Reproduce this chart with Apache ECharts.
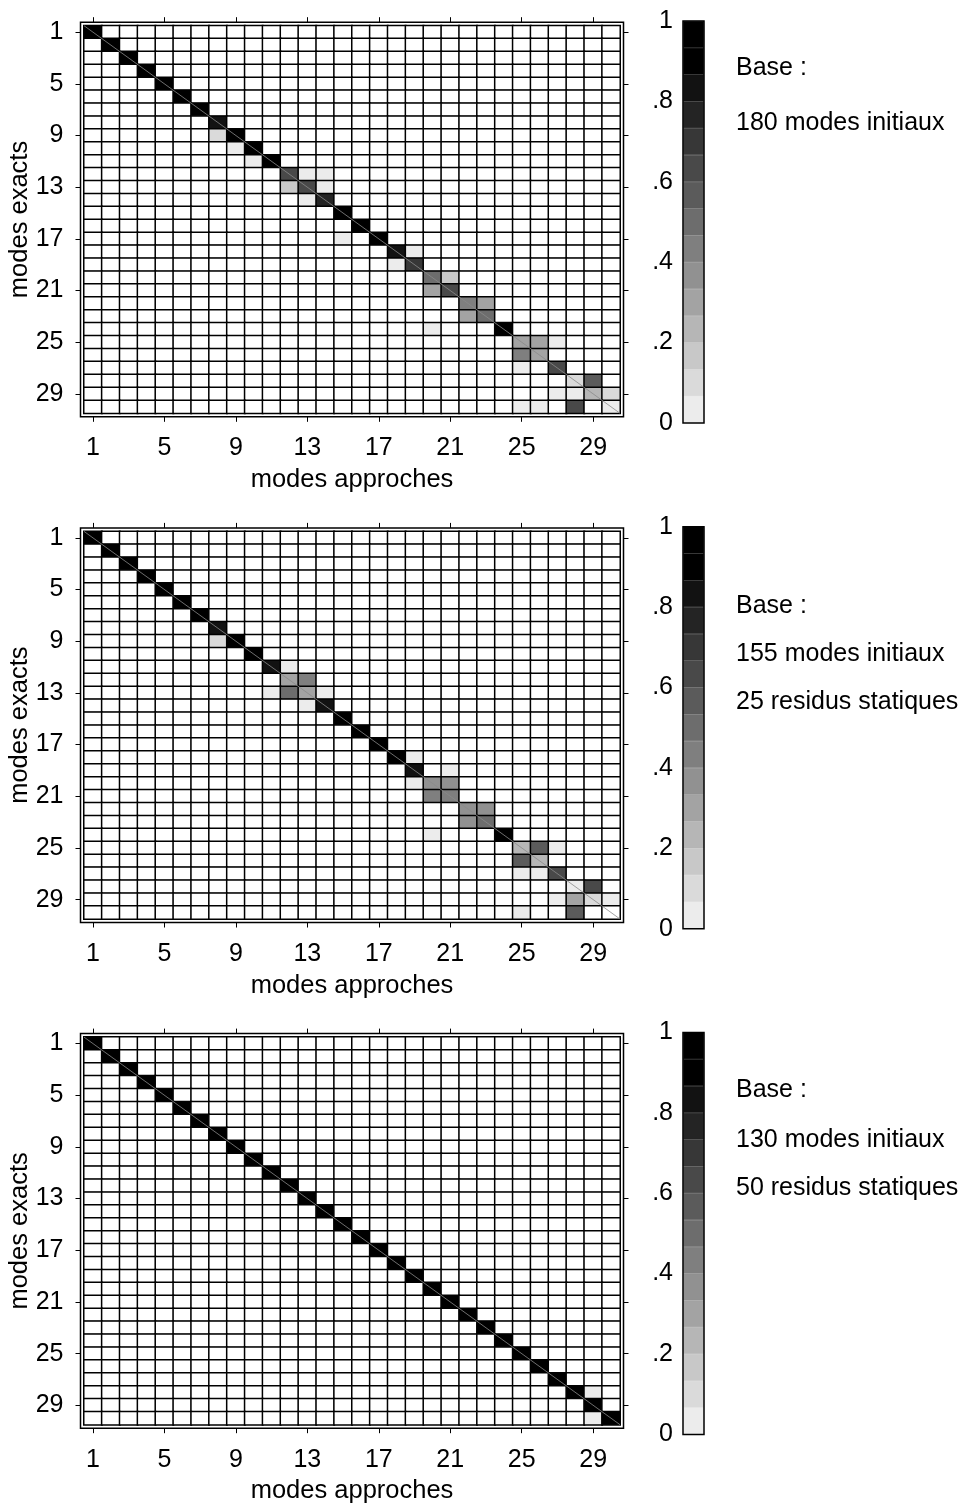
<!DOCTYPE html>
<html>
<head>
<meta charset="utf-8">
<script src="https://cdn.jsdelivr.net/npm/echarts@6/dist/echarts.min.js"></script>
<style>
html,body{margin:0;padding:0;background:#fff;}
#chart{width:962px;height:1507px;}
</style>
</head>
<body>
<div id="chart"></div>
<script>
// ---------- DATA ----------
const modes = ['1','2','3','4','5','6','7','8','9','10','11','12','13','14','15','16','17','18','19','20','21','22','23','24','25','26','27','28','29','30'];
const colorbarTicks = [0, 0.2, 0.4, 0.6, 0.8, 1];

// Panel 1 : 180 modes initiaux  (diagonal MAC values, row = exact mode)
const diag1 = [0.97,0.97,0.97,0.97,0.97,0.97,0.97,0.80,0.88,0.95,0.95,0.60,0.65,0.75,0.95,0.95,0.95,0.80,0.72,0.50,0.65,0.45,0.50,0.88,0.28,0.28,0.65,0.08,0.21,0.03];
// off-diagonal [exact mode, approx mode, value]
const off1 = [[9,8,0.08],[10,9,0.04],[11,10,0.04],[12,13,0.04],[12,14,0.03],[13,12,0.15],[13,14,0.04],[14,13,0.06],[17,15,0.03],[18,19,0.04],[19,18,0.05],[20,21,0.15],[21,20,0.28],[22,23,0.28],[23,22,0.33],[24,20,0.03],[25,26,0.33],[25,27,0.03],[26,25,0.45],[27,25,0.05],[28,29,0.55],[29,27,0.03],[29,28,0.04],[29,30,0.09],[30,25,0.06],[30,26,0.04],[30,28,0.60]];

// Panel 2 : 155 modes initiaux + 25 residus statiques
const diag2 = [0.97,0.97,0.97,0.97,0.97,0.97,0.97,0.80,0.88,0.95,0.82,0.33,0.28,0.82,0.95,0.95,0.95,0.93,0.80,0.38,0.45,0.38,0.50,0.95,0.21,0.21,0.65,0.03,0.08,0];
const off2 = [[9,8,0.07],[11,12,0.04],[12,13,0.42],[13,11,0.05],[13,12,0.47],[13,14,0.03],[14,13,0.05],[18,19,0.03],[19,21,0.03],[20,19,0.03],[20,21,0.35],[21,20,0.45],[22,23,0.35],[23,22,0.38],[24,20,0.03],[25,26,0.58],[25,27,0.04],[26,25,0.58],[27,25,0.04],[27,26,0.04],[28,29,0.62],[29,27,0.03],[29,28,0.28],[29,30,0.05],[30,25,0.05],[30,28,0.58]];

// Panel 3 : 130 modes initiaux + 50 residus statiques
const diag3 = [0.97,0.97,0.97,0.97,0.97,0.97,0.97,0.97,0.97,0.97,0.97,0.97,0.97,0.97,0.97,0.97,0.97,0.97,0.97,0.88,0.97,0.97,0.97,0.97,0.97,0.97,0.97,0.88,0.88,0.97];
const off3 = [[28,29,0.04],[30,29,0.04]];

const notes1 = ['Base :', '180 modes initiaux'];
const notes2 = ['Base :', '155 modes initiaux', '25 residus statiques'];
const notes3 = ['Base :', '130 modes initiaux', '50 residus statiques'];

// ---------- STYLE ----------
const FONT = '"Liberation Sans", Arial, sans-serif';
const FS = 25;
const NLEV = 15;
const levelColors = [];
for (let k = 0; k < NLEV; k++) {
  const g = k < 13 ? Math.round(236 - k * 18.15) : 0;
  const h = g.toString(16).padStart(2, '0');
  levelColors.push('#' + h + h + h);
}

const panels = [
  {diag: diag1, off: off1, notes: notes1, top: 25.7, notesY: [68, 123]},
  {diag: diag2, off: off2, notes: notes2, top: 531.4, notesY: [606, 654, 702]},
  {diag: diag3, off: off3, notes: notes3, top: 1037.1, notesY: [1090, 1140, 1188]}
];

const CELL_L = 84, CELL_W = 536, CELL_H = 387.6, GAP = 3.5;
const CB_L = 683, CB_W = 21, CB_H = 402;

const grid = [], xAxis = [], yAxis = [], series = [], graphic = [];
const heatIdx = [];

function tickFmt(v) {
  const s = String(+(+v).toFixed(1));
  return s.startsWith('0.') ? s.slice(1) : s;
}
function tickStyle() {
  return {show: true, interval: 3, alignWithLabel: true, length: 5, lineStyle: {color: '#000', width: 1}};
}
function mkGrid(o) {
  return Object.assign({outerBoundsMode: 'none', containLabel: false}, o);
}

panels.forEach((p, pi) => {
  const T = p.top;
  // frame grid
  const gFrame = grid.length;
  grid.push(mkGrid({left: CELL_L - GAP, top: T - GAP, width: CELL_W + 2 * GAP, height: CELL_H + 2 * GAP,
    show: true, backgroundColor: '#fff', borderColor: '#000', borderWidth: 1.5, z: 0}));
  xAxis.push({gridIndex: gFrame, type: 'value', show: false, min: 0, max: 1});
  yAxis.push({gridIndex: gFrame, type: 'value', show: false, min: 0, max: 1});

  // inner heatmap grid
  const gIn = grid.length;
  grid.push(mkGrid({left: CELL_L, top: T, width: CELL_W, height: CELL_H}));
  const xb = xAxis.length;
  xAxis.push({gridIndex: gIn, type: 'category', data: modes, position: 'bottom', offset: GAP,
    axisLine: {show: false}, splitLine: {show: false}, axisTick: tickStyle(),
    axisLabel: {interval: 3, fontSize: FS, color: '#000', fontFamily: FONT, margin: 19},
    name: 'modes approches', nameLocation: 'middle', nameGap: 50, nameMoveOverlap: false,
    nameTextStyle: {fontSize: FS + 0.5, color: '#000', fontFamily: FONT}});
  xAxis.push({gridIndex: gIn, type: 'category', data: modes, position: 'top', offset: GAP,
    axisLine: {show: false}, splitLine: {show: false}, axisLabel: {show: false}, axisTick: tickStyle()});
  const yl = yAxis.length;
  yAxis.push({gridIndex: gIn, type: 'category', data: modes, inverse: true, position: 'left', offset: GAP,
    axisLine: {show: false}, splitLine: {show: false}, axisTick: tickStyle(),
    axisLabel: {interval: 3, fontSize: FS, color: '#000', fontFamily: FONT, margin: 17},
    name: 'modes exacts', nameLocation: 'middle', nameGap: 48, nameRotate: 90, nameMoveOverlap: false,
    nameTextStyle: {fontSize: FS + 0.5, color: '#000', fontFamily: FONT}});
  yAxis.push({gridIndex: gIn, type: 'category', data: modes, inverse: true, position: 'right', offset: GAP,
    axisLine: {show: false}, splitLine: {show: false}, axisLabel: {show: false}, axisTick: tickStyle()});

  // build full matrix from diag + off-diagonal arrays
  const M = [];
  for (let r = 0; r < 30; r++) { M.push(new Array(30).fill(0)); M[r][r] = p.diag[r]; }
  p.off.forEach(([r, c, v]) => { M[r - 1][c - 1] = v; });
  const data = [];
  for (let r = 0; r < 30; r++) for (let c = 0; c < 30; c++) data.push([c, r, M[r][c]]);
  heatIdx.push(series.length);
  series.push({type: 'heatmap', xAxisIndex: xb, yAxisIndex: yl, data: data, silent: true,
    itemStyle: {borderColor: '#000', borderWidth: 1.5}, emphasis: {disabled: true}, z: 2});

  // diagonal line overlay
  const gOv = grid.length;
  grid.push(mkGrid({left: CELL_L, top: T, width: CELL_W, height: CELL_H}));
  const xo = xAxis.length;
  xAxis.push({gridIndex: gOv, type: 'value', show: false, min: 0, max: 30});
  const yo = yAxis.length;
  yAxis.push({gridIndex: gOv, type: 'value', show: false, min: 0, max: 30, inverse: true});
  series.push({type: 'line', xAxisIndex: xo, yAxisIndex: yo, data: [[0, 0], [30, 30]], showSymbol: false,
    silent: true, lineStyle: {color: '#8a8a8a', width: 0.8}, z: 4, animation: false});

  // colorbar
  const gCb = grid.length;
  grid.push(mkGrid({left: CB_L, top: T - 4.7, width: CB_W, height: CB_H, show: true,
    backgroundColor: 'transparent', borderColor: '#000', borderWidth: 1.5, z: 10}));
  const xc = xAxis.length;
  xAxis.push({gridIndex: gCb, type: 'category', data: ['c'], show: false});
  const yc = yAxis.length;
  yAxis.push({gridIndex: gCb, type: 'value', min: 0, max: 1, interval: 0.2,
    axisLine: {show: false}, axisTick: {show: false}, splitLine: {show: false},
    axisLabel: {fontSize: FS, color: '#000', fontFamily: FONT, margin: 10, formatter: tickFmt}});
  for (let k = 0; k < NLEV; k++) {
    series.push({type: 'bar', xAxisIndex: xc, yAxisIndex: yc, stack: 'cb' + pi, data: [1 / NLEV],
      barWidth: '100%', silent: true,
      itemStyle: {color: levelColors[k], borderColor: levelColors[k], borderWidth: 0.6},
      animation: false});
  }

  // notes
  p.notes.forEach((t, i) => {
    graphic.push({type: 'text', x: 736, y: p.notesY[i], silent: true,
      style: {text: t, font: FS + 'px ' + FONT, fill: '#000', verticalAlign: 'middle', textVerticalAlign: 'middle'}});
  });
});

const pieces = [{lt: 0.001, color: '#ffffff'}];
for (let k = 0; k < NLEV; k++) {
  pieces.push({gte: k === 0 ? 0.001 : k / NLEV, lt: k === NLEV - 1 ? 1.01 : (k + 1) / NLEV, color: levelColors[k]});
}

const chart = echarts.init(document.getElementById('chart'), null, {renderer: 'canvas'});
chart.setOption({
  backgroundColor: '#fff',
  animation: false,
  textStyle: {fontFamily: FONT},
  grid: grid, xAxis: xAxis, yAxis: yAxis, series: series, graphic: graphic,
  visualMap: [{type: 'piecewise', show: false, seriesIndex: heatIdx, dimension: 2, pieces: pieces}]
});
</script>
</body>
</html>
